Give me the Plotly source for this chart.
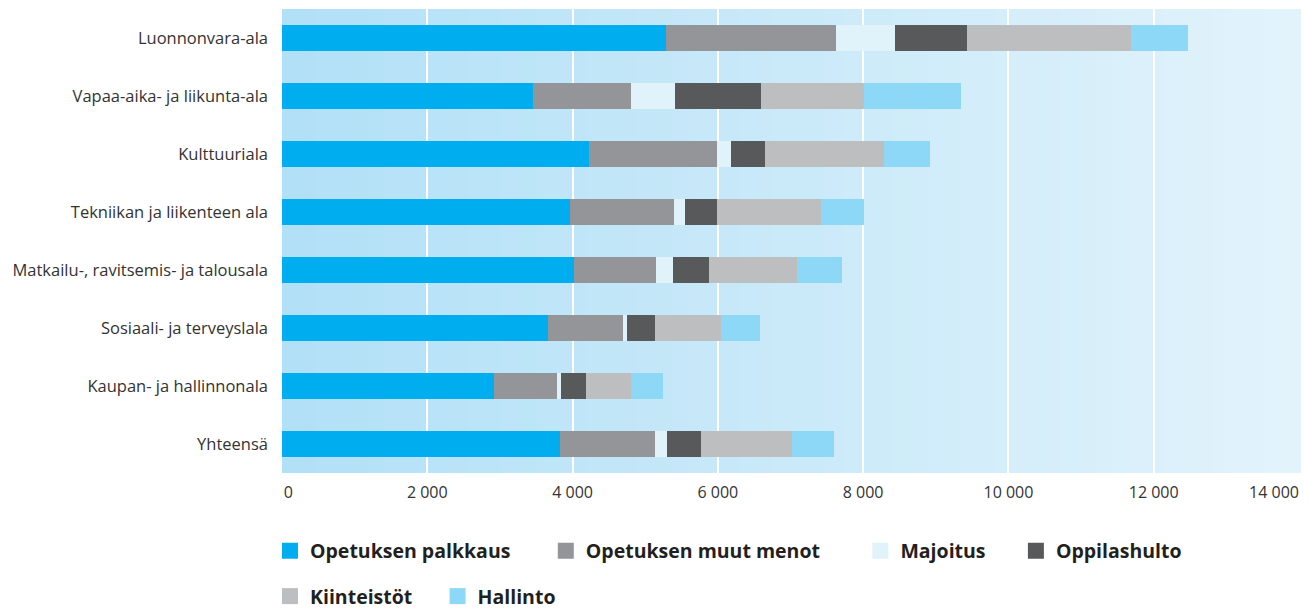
import plotly.graph_objects as go

categories = ["Luonnonvara-ala", "Vapaa-aika- ja liikunta-ala", "Kulttuuriala",
              "Tekniikan ja liikenteen ala", "Matkailu-, ravitsemis- ja talousala",
              "Sosiaali- ja terveyslala", "Kaupan- ja hallinnonala", "Yhteensä"]

opetuksen_palkkaus = [5286, 3459, 4230, 3970, 4013, 3664, 2921, 3832]
opetuksen_muut_menot = [2342, 1349, 1762, 1433, 1142, 1032, 870, 1307]
majoitus = [817, 606, 193, 147, 231, 58, 52, 163]
oppilashulto = [990, 1181, 469, 442, 496, 385, 348, 470]
kiinteistot = [2254, 1423, 1638, 1429, 1211, 907, 616, 1252]
hallinto = [786, 1333, 632, 595, 622, 537, 443, 581]

series_names = ["Opetuksen palkkaus", "Opetuksen muut menot", "Majoitus",
                "Oppilashulto", "Kiinteistöt", "Hallinto"]
series_values = [opetuksen_palkkaus, opetuksen_muut_menot, majoitus,
                 oppilashulto, kiinteistot, hallinto]
colors = ["#00AEEF", "#939598", "#E0F3FB", "#58595B", "#BCBEC0", "#8DD8F6"]

tick_vals = [0, 2000, 4000, 6000, 8000, 10000, 12000, 14000]
NB = "\u00a0"
tick_text = [NB * 3 + "0", "2 000", "4 000", "6 000", "8 000", "10 000", "12 000",
             "14 000" + NB * 12]

fig = go.Figure()
for name, vals, col in zip(series_names, series_values, colors):
    fig.add_trace(go.Bar(y=categories, x=vals, name=name, orientation="h",
                         marker=dict(color=col, line=dict(width=0)),
                         showlegend=False))

# legend entries with large square symbols (trailing spaces set the item spacing)
pads = [6, 7, 5, 5, 4, 5]
for i, (name, col) in enumerate(zip(series_names, colors)):
    fig.add_trace(go.Scatter(x=[None], y=[None], mode="markers", name=name + NB * pads[i],
                             marker=dict(symbol="square", size=21, color=col),
                             legend="legend" if i < 4 else "legend2"))

# background gradient strips
n = 60
c0 = (178, 224, 247)
c1 = (226, 243, 251)
shapes = []
for i in range(n):
    t = i / (n - 1)
    c = tuple(int(round(c0[k] + (c1[k] - c0[k]) * t)) for k in range(3))
    shapes.append(dict(type="rect", xref="x domain", yref="y domain",
                       x0=i / n, x1=(i + 1) / n + 0.002, y0=0, y1=1,
                       fillcolor="rgb(%d,%d,%d)" % c, line=dict(width=0),
                       layer="below"))

font_family = "Open Sans, Liberation Sans, sans-serif"
legend_font = dict(size=19.5, color="#231F20", family="Open Sans, sans-serif", weight="bold")

# the page body adds an 8px offset, so the figure is 8px smaller
fig.update_layout(
    width=1301, height=601, autosize=False,
    margin=dict(l=274, r=10, t=1, b=136, autoexpand=False),
    barmode="stack", bargap=0.535,
    plot_bgcolor="#C8E9F8", paper_bgcolor="white",
    shapes=shapes,
    font=dict(family=font_family, color="#333333", size=16),
    xaxis=dict(range=[0, 14000], tickvals=tick_vals, ticktext=tick_text,
               showgrid=True, gridcolor="white", gridwidth=1.5,
               zeroline=False, showline=False, ticklabelstandoff=8,
               automargin=False, ticklabeloverflow="allow",
               tickfont=dict(size=16, color="#333333")),
    yaxis=dict(autorange="reversed", showgrid=False, zeroline=False,
               ticklabelstandoff=13, automargin=False,
               tickfont=dict(size=16.5, color="#333333")),
    legend=dict(orientation="h", x=-0.0118, xanchor="left", y=-0.168, yanchor="middle",
                font=legend_font, traceorder="normal",
                bgcolor="rgba(0,0,0,0)", itemsizing="trace"),
    legend2=dict(orientation="h", x=-0.0118, xanchor="left", y=-0.266, yanchor="middle",
                 font=legend_font, traceorder="normal",
                 bgcolor="rgba(0,0,0,0)", itemsizing="trace"),
)

fig.write_html("out.html")
